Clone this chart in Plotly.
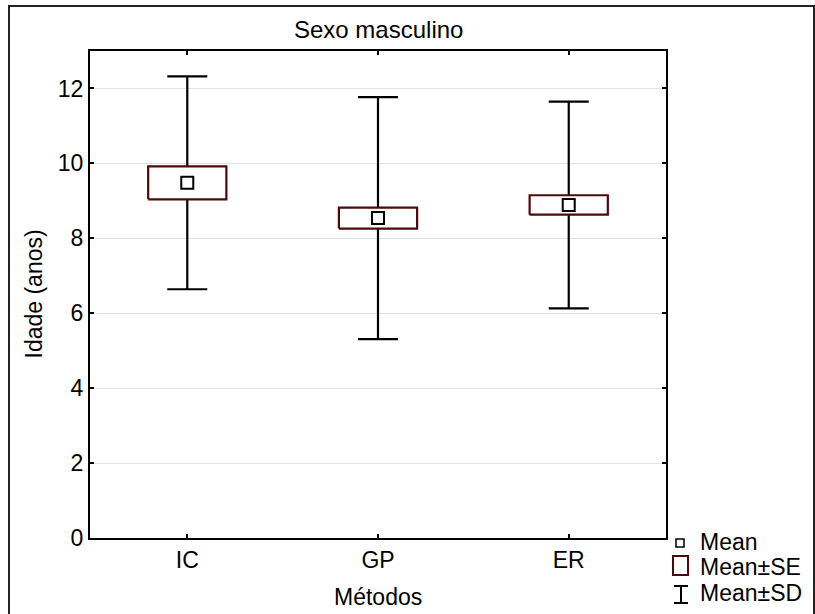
import plotly.graph_objects as go

# ---- data ----
methods = ["IC", "GP", "ER"]
mean_vals = [9.48, 8.54, 8.89]
se_vals = [0.44, 0.28, 0.26]
sd_vals = [2.84, 3.23, 2.76]

legend_labels = ["Mean", "Mean±SE", "Mean±SD"]
title_text = "Sexo masculino"
x_title = "Métodos"
y_title = "Idade (anos)"

# ---- layout constants (pixels) ----
W, H = 815, 614
L, R, T, B = 90, 666, 51, 538
FONT = "Liberation Sans, Arial, sans-serif"
FS = 23
MAROON = "#4d0a0a"
HW = 0.205  # half box width in category units


def xp(px):
    return (px - L) / (R - L)


def yp(py):
    return (B - py) / (B - T)


xi = list(range(len(methods)))

# SE boxes built from data
box_x, box_y = [], []
for i, m, s in zip(xi, mean_vals, se_vals):
    box_x += [i - HW, i + HW, i + HW, i - HW, i - HW, None]
    box_y += [m - s, m - s, m + s, m + s, m - s, None]

fig = go.Figure()

# SD whiskers
fig.add_trace(go.Scatter(
    x=xi, y=mean_vals, mode="markers",
    marker=dict(color="rgba(0,0,0,0)", size=2),
    error_y=dict(type="data", array=sd_vals, symmetric=True,
                 color="black", thickness=2.2, width=20),
    showlegend=False, hoverinfo="skip"))

# SE boxes
fig.add_trace(go.Scatter(
    x=box_x, y=box_y, mode="lines", fill="toself",
    fillcolor="white", line=dict(color=MAROON, width=2.2),
    showlegend=False, hoverinfo="skip"))

# Means
fig.add_trace(go.Scatter(
    x=xi, y=mean_vals, mode="markers",
    marker=dict(symbol="square", size=12, color="white",
                line=dict(color="black", width=2)),
    showlegend=False))

shapes = []
# outer frame
shapes.append(dict(type="rect", xref="paper", yref="paper",
                   x0=xp(9), x1=xp(814), y0=yp(640), y1=yp(6),
                   line=dict(color="#222", width=2), layer="below"))
# legend symbols
shapes.append(dict(type="rect", xref="paper", yref="paper",
                   x0=xp(676), x1=xp(684), y0=yp(547), y1=yp(539),
                   line=dict(color="black", width=1.5)))
shapes.append(dict(type="rect", xref="paper", yref="paper",
                   x0=xp(673), x1=xp(688), y0=yp(575), y1=yp(556),
                   line=dict(color=MAROON, width=2)))
shapes.append(dict(type="line", xref="paper", yref="paper",
                   x0=xp(681), x1=xp(681), y0=yp(603), y1=yp(586),
                   line=dict(color="black", width=2)))
shapes.append(dict(type="line", xref="paper", yref="paper",
                   x0=xp(674), x1=xp(688), y0=yp(586), y1=yp(586),
                   line=dict(color="black", width=2)))
shapes.append(dict(type="line", xref="paper", yref="paper",
                   x0=xp(674), x1=xp(688), y0=yp(603), y1=yp(603),
                   line=dict(color="black", width=2)))

annotations = []
for lab, py in zip(legend_labels, [542, 567, 593]):
    annotations.append(dict(text=lab, xref="paper", yref="paper",
                            x=xp(698), y=yp(py), xanchor="left",
                            yanchor="middle", showarrow=False,
                            font=dict(family=FONT, size=FS, color="black")))
annotations.append(dict(text=title_text, xref="paper", yref="paper",
                        x=0.5, y=yp(29), xanchor="center", yanchor="middle",
                        showarrow=False,
                        font=dict(family=FONT, size=24, color="black")))
annotations.append(dict(text=x_title, xref="paper", yref="paper",
                        x=0.5, y=yp(597), xanchor="center", yanchor="middle",
                        showarrow=False,
                        font=dict(family=FONT, size=FS, color="black")))
annotations.append(dict(text=y_title, xref="paper", yref="paper",
                        x=xp(33), y=0.5, xanchor="center", yanchor="middle",
                        textangle=-90, showarrow=False,
                        font=dict(family=FONT, size=FS, color="black")))

fig.update_layout(
    width=W, height=H,
    margin=dict(l=L, r=W - R, t=T, b=H - B, autoexpand=False),
    paper_bgcolor="white", plot_bgcolor="white",
    font=dict(family=FONT, size=FS, color="black"),
    shapes=shapes, annotations=annotations,
    showlegend=False,
    xaxis=dict(range=[-0.51, 2.51], tickmode="array", tickvals=xi,
               ticktext=methods, showgrid=False, zeroline=False,
               showline=True, linecolor="black", linewidth=2, mirror="ticks",
               ticks="inside", ticklen=4, tickwidth=2, tickcolor="black",
               automargin=False, fixedrange=True),
    yaxis=dict(range=[0, 13], tickmode="array",
               tickvals=[0, 2, 4, 6, 8, 10, 12], showgrid=True,
               gridcolor="#e3e3e3", gridwidth=1, zeroline=False,
               showline=True, linecolor="black", linewidth=2, mirror="ticks",
               ticks="inside", ticklen=4, tickwidth=2, tickcolor="black",
               automargin=False, fixedrange=True),
)

fig.write_html("out.html", config={"displayModeBar": False},
               post_script="document.body.style.margin='0px';")
